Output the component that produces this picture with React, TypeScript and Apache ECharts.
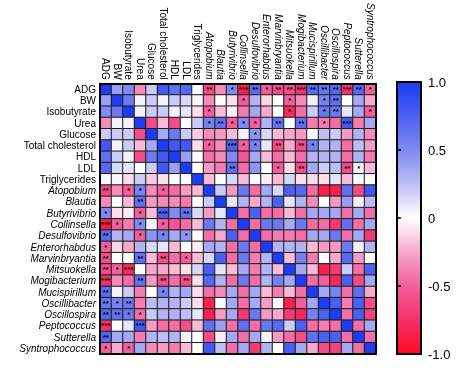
import React, { useEffect, useRef } from 'react';
import * as echarts from 'echarts';

const variables = [
  'ADG', 'BW', 'Isobutyrate', 'Urea', 'Glucose', 'Total cholesterol', 'HDL', 'LDL', 'Triglycerides',
  'Atopobium', 'Blautia', 'Butyrivibrio', 'Collinsella', 'Desulfovibrio', 'Enterorhabdus',
  'Marvinbryantia', 'Mitsuokella', 'Mogibacterium', 'Mucispirillum', 'Oscillibacter',
  'Oscillospira', 'Peptococcus', 'Sutterella', 'Syntrophococcus',
];
const italicFrom = 9;

// Upper triangle of the correlation matrix; row i holds columns i..23
const upperTriangle: number[][] = [
  [1, 0.4, 0.5, -0.35, 0.2, 0.8, 0.65, 0.7, 0.02, -0.62, -0.35, 0.5, -0.88, 0.68, -0.5, -0.6, -0.6, -0.75, 0.68, 0.62, 0.7, -0.75, 0.7, -0.5],
  [1, 0.6, 0.05, 0.2, 0.05, 0.2, 0.15, 0.03, -0.35, 0.0, -0.1, -0.5, 0.3, -0.12, 0.0, -0.5, -0.35, 0.05, 0.55, 0.65, 0.0, 0.35, -0.25],
  [1, 0.05, 0.2, 0.2, 0.05, 0.1, -0.1, -0.5, -0.2, -0.05, -0.4, 0.35, -0.25, 0.0, -0.8, -0.45, 0.2, 0.6, 0.6, 0.1, 0.35, -0.5],
  [1, -0.6, -0.2, -0.6, 0.0, 0.2, 0.55, 0.65, -0.5, 0.5, -0.5, 0.3, 0.65, 0.0, 0.65, -0.4, -0.4, -0.45, 0.8, -0.4, 0.35],
  [1, 0.35, 0.6, 0.2, -0.15, -0.35, -0.3, -0.2, 0.05, 0.45, 0.15, -0.2, -0.25, -0.3, 0.0, 0.25, 0.2, -0.3, 0.3, -0.35],
  [1, 0.8, 0.8, -0.1, -0.5, -0.35, 0.75, -0.5, 0.55, 0.1, -0.6, -0.25, -0.6, 0.55, 0.3, 0.3, -0.45, 0.25, -0.3],
  [1, 0.4, 0.0, -0.45, -0.35, 0.5, -0.55, 0.35, -0.2, -0.45, -0.2, -0.45, 0.3, 0.3, 0.3, -0.45, 0.3, -0.4],
  [1, 0.0, -0.3, -0.4, 0.65, -0.45, 0.45, 0.0, -0.5, -0.1, -0.6, 0.35, 0.2, 0.25, -0.6, 0.05, -0.2],
  [1, -0.2, 0.0, 0.15, -0.2, 0.0, -0.05, -0.2, 0.15, -0.1, -0.1, -0.1, 0.1, -0.2, 0.0, 0.0],
  [1, 0.2, -0.3, 0.6, -0.45, 0.35, 0.15, 0.75, 0.7, -0.45, -0.85, -0.85, 0.65, -0.6, 0.8],
  [1, 0.1, 0.3, -0.25, 0.3, 0.75, 0.1, 0.3, -0.35, 0.0, -0.3, 0.4, -0.05, 0.25],
  [1, -0.45, 0.75, -0.45, -0.45, -0.2, -0.45, 0.35, 0.35, 0.35, -0.45, 0.35, -0.45],
  [1, -0.45, 0.6, 0.6, 0.35, 0.6, -0.45, -0.45, -0.7, 0.65, -0.45, 0.35],
  [1, -0.45, -0.4, -0.4, -0.45, 0.35, 0.35, 0.6, -0.45, 0.35, -0.7],
  [1, 0.3, 0.3, 0.3, -0.2, -0.3, -0.3, 0.6, 0.05, 0.3],
  [1, -0.2, 0.55, -0.4, 0.0, -0.25, 0.7, -0.3, 0.0],
  [1, 0.35, -0.2, -0.85, -0.7, 0.2, -0.45, 0.75],
  [1, -0.45, -0.5, -0.8, 0.75, -0.6, 0.35],
  [1, 0.35, 0.55, -0.45, 0.65, -0.25],
  [1, 0.75, -0.4, 0.75, -0.6],
  [1, -0.45, 0.75, -0.65],
  [1, -0.45, 0.35],
  [1, -0.45],
  [1],
];

// Significance marks [row, column, mark]
const sigMarks: [number, number, string][] = [
  [0, 9, '**'], [0, 11, '*'], [0, 12, '***'], [0, 13, '**'], [0, 14, '*'], [0, 15, '**'], [0, 16, '**'],
  [0, 17, '***'], [0, 18, '**'], [0, 19, '**'], [0, 20, '**'], [0, 21, '***'], [0, 22, '**'], [0, 23, '*'],
  [1, 12, '*'], [1, 16, '*'], [1, 19, '*'], [1, 20, '**'],
  [2, 9, '*'], [2, 16, '*'], [2, 19, '*'], [2, 20, '**'], [2, 23, '*'],
  [3, 9, '*'], [3, 10, '**'], [3, 11, '*'], [3, 12, '*'], [3, 13, '*'], [3, 15, '**'], [3, 17, '**'], [3, 19, '*'], [3, 21, '***'],
  [4, 13, '*'],
  [5, 9, '*'], [5, 11, '***'], [5, 12, '*'], [5, 13, '*'], [5, 15, '**'], [5, 17, '**'], [5, 18, '*'],
  [7, 11, '**'], [7, 15, '*'], [7, 17, '**'], [7, 21, '**'], [7, 22, '*'],
  [9, 0, '**'], [9, 2, '*'], [9, 3, '*'], [9, 5, '*'],
  [10, 3, '**'],
  [11, 0, '*'], [11, 3, '*'], [11, 5, '***'], [11, 7, '**'],
  [12, 0, '***'], [12, 1, '*'], [12, 3, '*'], [12, 5, '*'],
  [13, 0, '**'], [13, 3, '*'], [13, 5, '*'], [13, 7, '*'],
  [14, 0, '*'],
  [15, 0, '**'], [15, 3, '**'], [15, 5, '**'], [15, 7, '*'],
  [16, 0, '**'], [16, 1, '*'], [16, 2, '***'],
  [17, 0, '***'], [17, 3, '**'], [17, 5, '**'], [17, 7, '**'],
  [18, 0, '**'], [18, 5, '*'],
  [19, 0, '**'], [19, 1, '*'], [19, 2, '**'],
  [20, 0, '**'], [20, 1, '**'], [20, 2, '*'], [20, 3, '*'],
  [21, 0, '***'], [21, 3, '***'],
  [22, 0, '**'],
  [23, 0, '*'], [23, 2, '*'],
];

const colorbarTicks = [-1, -0.5, 0, 0.5, 1];
const scaleColors = ['#FF0A22', '#F4306A', '#F25E9C', '#F6A9CD', '#FFFFFF', '#BDBEF5', '#8189F2', '#4A60F0', '#1E3CF5'];

const FONT = '"Liberation Sans", Arial, Helvetica, sans-serif';

export default function App() {
  const ref = useRef<HTMLDivElement>(null);
  useEffect(() => {
    if (!ref.current) return;
    const chart = echarts.init(ref.current, undefined, { renderer: 'svg' });

    const n = variables.length;
    const matrix: number[][] = Array.from({ length: n }, () => new Array(n).fill(0));
    upperTriangle.forEach((row, i) => {
      row.forEach((v, k) => {
        const j = i + k;
        matrix[i][j] = v;
        matrix[j][i] = v;
      });
    });
    const marks: Record<string, string> = {};
    sigMarks.forEach(([r, c, m]) => { marks[r + '_' + c] = m; });

    const data: [number, number, number][] = [];
    for (let r = 0; r < n; r++) for (let c = 0; c < n; c++) data.push([c, r, matrix[r][c]]);

    const fmt = (v: string) => {
      const i = variables.indexOf(v);
      return i >= italicFrom ? `{i|${v}}` : `{n|${v}}`;
    };
    const rich = {
      i: { fontStyle: 'italic', fontSize: 10, fontFamily: FONT, color: '#000' },
      n: { fontSize: 10, fontFamily: FONT, color: '#000' },
    };
    const boxLine = { show: true, lineStyle: { color: '#000', width: 2 } };

    const stops = scaleColors.map((c, k) => ({ offset: 1 - k / (scaleColors.length - 1), color: c })).reverse();

    chart.setOption({
      animation: false,
      grid: [
        { left: 100, top: 82, width: 276, height: 272 },
        { left: 397, top: 82, width: 24, height: 272 },
      ],
      xAxis: [
        {
          type: 'category', gridIndex: 0, data: variables, position: 'top', z: 10,
          axisLine: boxLine, axisTick: { show: false }, splitLine: { show: false },
          axisLabel: { interval: 0, rotate: 90, margin: 4, formatter: fmt, rich },
        },
        {
          type: 'category', gridIndex: 0, data: variables, position: 'bottom', z: 10,
          axisLine: boxLine, axisTick: { show: false }, axisLabel: { show: false },
        },
        { type: 'value', gridIndex: 1, min: 0, max: 1, show: false },
      ],
      yAxis: [
        {
          type: 'category', gridIndex: 0, data: variables, inverse: true, position: 'left', z: 10,
          axisLine: boxLine, axisTick: { show: false }, splitLine: { show: false },
          axisLabel: { interval: 0, margin: 4, formatter: fmt, rich },
        },
        {
          type: 'category', gridIndex: 0, data: variables, inverse: true, position: 'right', z: 10,
          axisLine: boxLine, axisTick: { show: false }, axisLabel: { show: false },
        },
        {
          type: 'value', gridIndex: 1, min: -1, max: 1, interval: 0.5, position: 'right', z: 10,
          axisLine: { show: true, lineStyle: { color: '#000', width: 2 } },
          axisTick: { show: true, length: 4, lineStyle: { color: '#000', width: 1.5 } },
          splitLine: { show: false },
          axisLabel: {
            margin: 7, fontSize: 13, fontFamily: FONT, color: '#000',
            formatter: (v: number) => (colorbarTicks.includes(v) ? (Math.abs(v) === 1 ? v.toFixed(1) : String(v)) : ''),
          },
        },
      ],
      visualMap: {
        type: 'continuous', show: false, min: -1, max: 1, seriesIndex: 0,
        inRange: { color: scaleColors },
      },
      series: [
        {
          type: 'heatmap', xAxisIndex: 0, yAxisIndex: 0, data,
          itemStyle: { borderColor: '#1c1c1c', borderWidth: 1 },
          emphasis: { disabled: true },
          label: {
            show: true, fontSize: 8, fontWeight: 'bold', color: '#000', fontFamily: FONT,
            formatter: (p: any) => marks[p.value[1] + '_' + p.value[0]] || '',
          },
        },
        {
          type: 'custom', xAxisIndex: 2, yAxisIndex: 2, data: [[0, 0]], silent: true,
          renderItem: (_params: any, api: any) => {
            const p1 = api.coord([0, 1]);
            const p2 = api.coord([1, -1]);
            return {
              type: 'rect',
              shape: { x: p1[0], y: p1[1], width: p2[0] - p1[0], height: p2[1] - p1[1] },
              style: {
                fill: new echarts.graphic.LinearGradient(0, 0, 0, 1, stops),
                stroke: '#000', lineWidth: 2,
              },
            };
          },
        },
      ],
    });
    return () => chart.dispose();
  }, []);
  return <div ref={ref} style={{ position: 'fixed', left: 0, top: 0, width: 474, height: 368 }} />;
}
